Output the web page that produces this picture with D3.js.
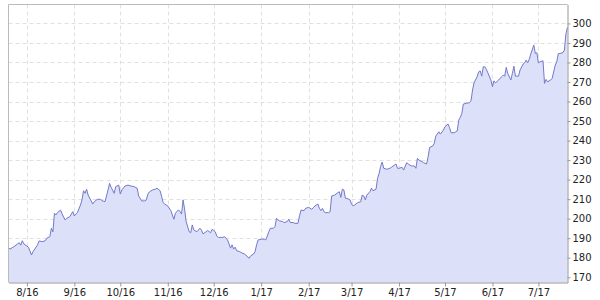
<!DOCTYPE html>
<html>
<head>
<meta charset="utf-8">
<script src="https://cdn.jsdelivr.net/npm/d3@7"></script>
<style>
  body { margin: 0; background: #fff; }
  #chart text { font-family: "DejaVu Sans", Verdana, sans-serif; font-size: 10px; fill: #222; }
</style>
</head>
<body>
<div id="chart"></div>
<script>
// price series
var dates = [
  "2016-07-20","2016-07-21","2016-07-23","2016-07-26","2016-07-27","2016-07-28","2016-07-29","2016-07-30",
  "2016-08-02","2016-08-04","2016-08-05","2016-08-08","2016-08-09","2016-08-11","2016-08-13","2016-08-14",
  "2016-08-16","2016-08-17","2016-08-18","2016-08-19","2016-08-20","2016-08-21","2016-08-23","2016-08-24",
  "2016-08-26","2016-08-27","2016-08-29","2016-08-31","2016-09-01","2016-09-02","2016-09-03","2016-09-05",
  "2016-09-06","2016-09-07","2016-09-08","2016-09-09","2016-09-10","2016-09-13","2016-09-14","2016-09-16",
  "2016-09-18","2016-09-19","2016-09-21","2016-09-23","2016-09-24","2016-09-25","2016-09-27","2016-09-28",
  "2016-09-30","2016-10-01","2016-10-02","2016-10-04","2016-10-06","2016-10-08","2016-10-10","2016-10-12",
  "2016-10-13","2016-10-15","2016-10-17","2016-10-18","2016-10-19","2016-10-20","2016-10-22","2016-10-24",
  "2016-10-25","2016-10-27","2016-10-28","2016-10-29","2016-10-30","2016-11-01","2016-11-03","2016-11-04",
  "2016-11-05","2016-11-06","2016-11-08","2016-11-09","2016-11-10","2016-11-11","2016-11-12","2016-11-13",
  "2016-11-15","2016-11-16","2016-11-17","2016-11-18","2016-11-20","2016-11-22","2016-11-23","2016-11-24",
  "2016-11-26","2016-11-27","2016-11-29","2016-11-30","2016-12-02","2016-12-03","2016-12-04","2016-12-07",
  "2016-12-08","2016-12-09","2016-12-10","2016-12-11","2016-12-12","2016-12-13","2016-12-14","2016-12-15",
  "2016-12-16","2016-12-18","2016-12-19","2016-12-21","2016-12-22","2016-12-24","2016-12-25","2016-12-27",
  "2016-12-28","2016-12-29","2016-12-30","2017-01-01","2017-01-03","2017-01-04","2017-01-06","2017-01-07",
  "2017-01-09","2017-01-10","2017-01-11","2017-01-12","2017-01-13","2017-01-15","2017-01-16","2017-01-18",
  "2017-01-19","2017-01-20","2017-01-22","2017-01-23","2017-01-25","2017-01-26","2017-01-27","2017-01-29",
  "2017-01-30","2017-02-01","2017-02-03","2017-02-04","2017-02-05","2017-02-07","2017-02-08","2017-02-09",
  "2017-02-10","2017-02-11","2017-02-12","2017-02-14","2017-02-15","2017-02-16","2017-02-18","2017-02-20",
  "2017-02-21","2017-02-22","2017-02-23","2017-02-24","2017-02-25","2017-02-26","2017-02-28","2017-03-01",
  "2017-03-02","2017-03-03","2017-03-05","2017-03-07","2017-03-08","2017-03-09","2017-03-10","2017-03-11",
  "2017-03-13","2017-03-14","2017-03-15","2017-03-17","2017-03-18","2017-03-19","2017-03-20","2017-03-21",
  "2017-03-22","2017-03-24","2017-03-26","2017-03-27","2017-03-29","2017-03-30","2017-03-31","2017-04-01",
  "2017-04-03","2017-04-04","2017-04-06","2017-04-07","2017-04-09","2017-04-11","2017-04-12","2017-04-13",
  "2017-04-14","2017-04-16","2017-04-17","2017-04-19","2017-04-20","2017-04-21","2017-04-23","2017-04-24",
  "2017-04-25","2017-04-27","2017-04-28","2017-04-30","2017-05-01","2017-05-03","2017-05-04","2017-05-05",
  "2017-05-07","2017-05-09","2017-05-10","2017-05-11","2017-05-12","2017-05-13","2017-05-15","2017-05-17",
  "2017-05-18","2017-05-19","2017-05-20","2017-05-22","2017-05-23","2017-05-24","2017-05-25","2017-05-26",
  "2017-05-27","2017-05-28","2017-05-29","2017-05-31","2017-06-01","2017-06-02","2017-06-03","2017-06-05",
  "2017-06-07","2017-06-08","2017-06-09","2017-06-10","2017-06-11","2017-06-13","2017-06-14","2017-06-15",
  "2017-06-16","2017-06-18","2017-06-19","2017-06-21","2017-06-22","2017-06-23","2017-06-24","2017-06-25",
  "2017-06-26","2017-06-28","2017-06-29","2017-06-30","2017-07-01","2017-07-02","2017-07-04","2017-07-05",
  "2017-07-06","2017-07-07","2017-07-09","2017-07-10","2017-07-12","2017-07-13","2017-07-14","2017-07-15",
  "2017-07-17","2017-07-18","2017-07-19","2017-07-20"
];
var prices = [
  185.2,184.4,185.4,187.1,187.7,186.4,188.7,187.1,
  185.4,181.4,183.1,186.6,188.6,188.2,188.7,190.0,
  190.8,195.1,193.3,202.8,201.9,203.1,204.4,202.4,
  199.3,200.2,201.0,203.6,201.4,202.4,203.1,207.0,
  209.6,214.3,213.0,215.1,212.1,207.5,208.7,209.9,
  209.9,209.2,208.7,214.7,218.1,216.1,213.0,216.4,
  217.2,212.6,214.7,216.7,217.2,216.7,216.4,215.6,
  211.6,209.1,209.1,209.6,212.6,213.7,214.7,215.1,
  215.6,214.3,211.3,208.2,207.5,206.5,204.1,201.9,
  199.7,202.8,204.5,203.6,202.4,209.6,204.8,198.5,
  193.3,192.8,196.8,194.2,193.3,195.1,194.2,192.2,
  193.3,193.9,192.8,194.6,193.3,191.1,190.4,190.4,
  190.8,190.0,189.1,187.1,184.9,186.6,184.4,185.4,
  183.6,183.1,182.6,181.9,181.4,179.7,180.9,181.9,
  183.1,186.6,189.1,189.5,189.5,189.1,193.3,195.1,
  195.1,195.9,200.2,199.3,198.9,198.5,198.0,198.5,
  199.7,198.0,198.0,197.6,197.6,201.4,204.4,204.1,
  205.3,205.8,204.8,205.6,206.5,207.5,205.3,204.1,
  205.3,203.6,203.1,203.1,203.6,211.6,212.1,213.3,
  213.8,210.9,215.1,214.7,210.4,210.4,209.6,207.5,
  206.5,207.0,208.2,208.7,212.1,211.6,209.6,212.1,
  213.8,215.6,214.3,215.1,220.7,223.2,226.8,229.0,
  225.8,225.3,225.8,226.3,227.5,228.0,225.8,225.8,
  226.3,224.9,228.7,228.0,227.0,227.0,225.8,230.9,
  230.0,229.2,228.7,228.0,231.7,236.5,237.2,238.6,
  242.3,244.5,243.3,245.4,247.1,248.5,246.6,244.0,
  244.0,244.9,250.5,251.9,253.9,258.7,259.1,259.4,
  260.4,265.9,269.6,272.7,275.2,275.7,273.0,277.8,
  277.8,276.5,274.7,271.0,267.6,270.6,269.6,271.0,
  272.7,273.5,273.0,277.5,274.4,271.0,274.4,278.1,
  273.0,273.0,276.1,279.2,279.8,281.2,279.8,281.6,
  284.3,288.9,284.6,285.0,279.8,280.3,280.9,269.3,
  271.3,270.1,271.0,271.9,278.7,280.3,284.6,284.6,
  285.0,286.4,294.9,298.0
];
var monthTicks = ["2016-08-01","2016-09-01","2016-10-01","2016-11-01","2016-12-01","2017-01-01",
  "2017-02-01","2017-03-01","2017-04-01","2017-05-01","2017-06-01","2017-07-01"];
var priceTicks = [170,180,190,200,210,220,230,240,250,260,270,280,290,300];

var width = 600
var height = 300
var plotLeft = 8.5, plotRight = 567.5, plotTop = 4.5, plotBottom = 282.5

var parse = d3.timeParse("%Y-%m-%d");
var data = dates.map(function (d, i) { return { date: parse(d), value: prices[i] }; });

var x = d3.scaleTime()
  .domain([parse("2016-07-20"), parse("2017-07-20")])
  .range([plotLeft, plotRight]);
var y = d3.scaleLinear()
  .domain([167.3, 309.7])
  .range([plotBottom, plotTop]);

var svg = d3.select("#chart")
  .append("svg")
  .attr("width", width)
  .attr("height", height);

// dashed grid
svg.append("g")
  .selectAll("line")
  .data(priceTicks)
  .enter()
  .append("line")
  .attr("x1", plotLeft).attr("x2", plotRight)
  .attr("y1", function (d) { return Math.round(y(d)) + 0.5; })
  .attr("y2", function (d) { return Math.round(y(d)) + 0.5; })
  .style("stroke", "#e0e0e0")
  .style("stroke-dasharray", "4,3");

svg.append("g")
  .selectAll("line")
  .data(monthTicks.map(parse))
  .enter()
  .append("line")
  .attr("x1", function (d) { return Math.round(x(d)) + 0.5; })
  .attr("x2", function (d) { return Math.round(x(d)) + 0.5; })
  .attr("y1", plotTop).attr("y2", plotBottom)
  .style("stroke", "#e0e0e0")
  .style("stroke-dasharray", "4,3");

var area = d3.area()
  .x(function (d) { return x(d.date); })
  .y0(plotBottom)
  .y1(function (d) { return y(d.value); });

var line = d3.line()
  .x(function (d) { return x(d.date); })
  .y(function (d) { return y(d.value); });

svg.append("path")
  .datum(data)
  .attr("d", area)
  .style("fill", "#dce0f9");

svg.append("path")
  .datum(data)
  .attr("d", line)
  .style("fill", "none")
  .style("stroke", "#7479c8")
  .style("stroke-width", 1);

// frame
svg.append("path")
  .attr("d", "M" + plotLeft + "," + plotBottom + "V" + plotTop + "H" + plotRight)
  .style("fill", "none")
  .style("stroke", "#bbb");

svg.append("g")
  .attr("transform", "translate(0," + plotBottom + ")")
  .call(d3.axisBottom(x)
    .tickValues(monthTicks.map(parse))
    .tickFormat(d3.timeFormat("%-m/%y"))
    .tickSize(4)
    .tickSizeOuter(0)
    .tickPadding(2));

svg.append("g")
  .attr("transform", "translate(" + plotRight + ",0)")
  .call(d3.axisRight(y)
    .tickValues(priceTicks)
    .tickSize(3)
    .tickSizeOuter(0)
    .tickPadding(2));

svg.selectAll(".domain").style("stroke", "#999");
svg.selectAll(".tick line").style("stroke", "#999");
svg.selectAll(".tick text")
  .style("fill", "#222")
  .style("font-family", "'DejaVu Sans', Verdana, sans-serif")
  .style("font-size", "10px");
</script>
</body>
</html>
